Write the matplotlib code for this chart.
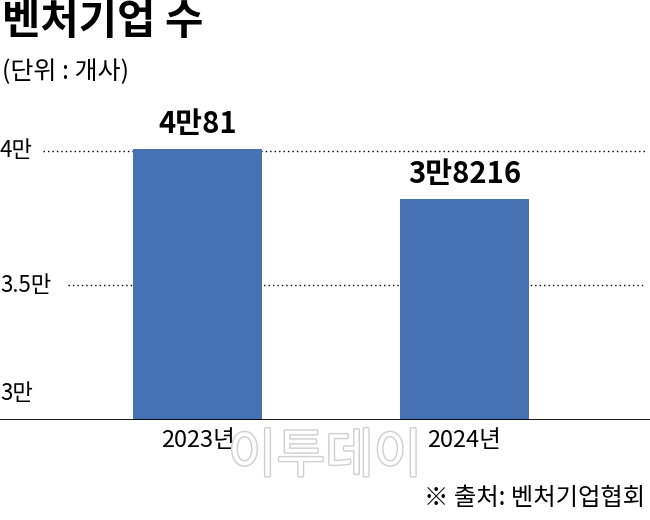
import matplotlib.pyplot as plt
import matplotlib.patheffects as pe
from matplotlib.transforms import blended_transform_factory

plt.rcParams['font.family'] = ['Noto Sans CJK KR', 'DejaVu Sans']

# data
years = ["2023년", "2024년"]
counts = [40081, 38216]
value_labels = ["4만81", "3만8216"]
tick_values = [30000, 35000, 40000]
tick_labels = ["3만", "3.5만", "4만"]

title = "벤처기업 수"
unit = "(단위 : 개사)"
source = "※ 출처: 벤처기업협회"


def main():
    fig = plt.figure(figsize=(6.5, 5.2), dpi=100)
    ax = fig.add_axes([0, 0.1923, 1, 0.6212])

    x = list(range(len(years)))
    ax.bar(x, counts, width=0.483, color="#4672B4", zorder=2)
    ax.set_xlim(-0.74, 1.695)
    ax.set_ylim(30000, 42000)
    ax.axis("off")

    # baseline
    ax.axhline(30000, color="black", lw=2, zorder=3)

    # dotted gridlines (start after the label)
    grid_start = {40000: -0.579, 35000: -0.485}
    for v, start in grid_start.items():
        ax.hlines(v, start, 1.676, colors="black", linestyles=(0, (1, 2.2)),
                  lw=1, zorder=1)

    # y labels sit inside the axes at the left edge
    tr = blended_transform_factory(ax.transAxes, ax.transData)
    for v, lab in zip(tick_values, tick_labels):
        y = v if v > 30000 else 31000
        ax.text(0.0, y, lab, transform=tr, ha="left", va="center",
                fontsize=16, color="black")

    # value labels above bars
    for xi, c, lab in zip(x, counts, value_labels):
        ax.text(xi, c + 350, lab, ha="center", va="bottom",
                fontsize=21, fontweight="bold")

    # x labels
    for xi, lab in zip(x, years):
        ax.text(xi, 30000 - 350, lab, ha="center", va="top", fontsize=17)

    fig.text(0.003, 0.958, title, ha="left", va="center",
             fontsize=30, fontweight="bold")
    fig.text(0.003, 0.862, unit, ha="left", va="center", fontsize=18)
    fig.text(0.993, 0.042, source, ha="right", va="center", fontsize=17.5)

    # watermark
    fig.text(0.50, 0.122, "이투데이", ha="center", va="center", fontsize=38,
             color="white",
             path_effects=[pe.withStroke(linewidth=2, foreground="#cfcfcf")])

    fig.savefig("out.png", dpi=100)


if __name__ == "__main__":
    main()
